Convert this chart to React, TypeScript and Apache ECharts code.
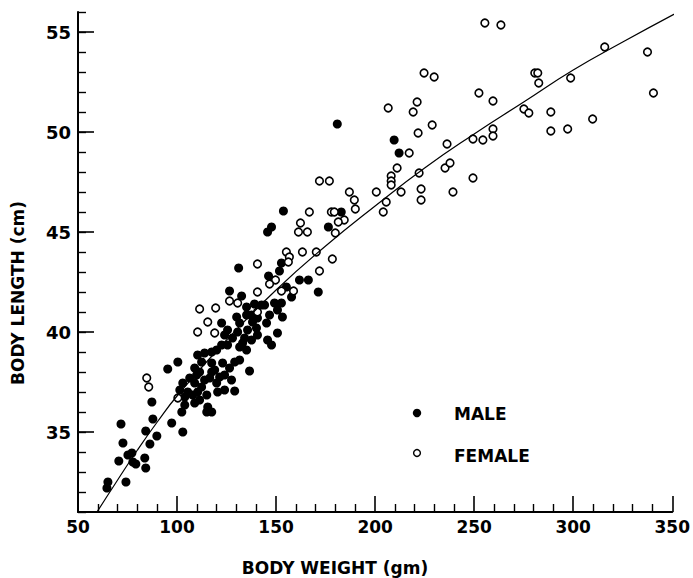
import React, { useEffect, useRef } from 'react';
import * as echarts from 'echarts';

const X_MIN = 50;
const X_MAX = 350;
const X_STEP = 50;
const Y_MIN = 31;
const Y_MAX = 56;
const Y_LABEL_STEP = 5;
const yMajorTicks = [35, 40, 45, 50, 55];

// MALE: [body weight (gm), body length (cm)]
const maleLow = [
  [64.6, 32.2], [65.1, 32.5], [70.6, 33.55], [71.7, 35.4], [72.7, 34.45], [74.2, 32.5],
  [75.2, 33.85], [77.2, 33.95], [77.7, 33.5], [79.2, 33.4], [83.7, 33.7], [84.2, 33.2],
  [84.2, 35.05], [86.3, 34.4], [87.3, 36.5], [87.8, 35.65], [89.8, 34.8], [102.4, 36.0],
  [102.9, 35.0],
];
const maleCluster = [
  [126.5, 42.05], [132.6, 41.8], [142.6, 41.35], [130.1, 40.75], [135.1, 40.85], [122.5, 40.45],
  [131.6, 40.45], [138.1, 40.5], [130.6, 40.0], [135.6, 40.1], [140.1, 40.2], [124.0, 39.85],
  [128.0, 39.7], [134.1, 39.7], [137.6, 39.6], [125.5, 39.35], [131.6, 39.25], [135.1, 39.1],
  [117.5, 39.0], [113.9, 38.95], [110.4, 38.85], [120.0, 39.1], [100.4, 38.5], [95.3, 38.15],
  [108.9, 38.2], [112.4, 38.5], [117.5, 38.45], [123.0, 38.45], [129.1, 38.5], [119.0, 38.1],
  [126.5, 38.2], [136.6, 38.05], [109.9, 37.85], [113.9, 37.6], [116.5, 37.7], [121.5, 37.75],
  [127.5, 37.6], [108.9, 37.45], [102.9, 37.45], [112.4, 37.25], [120.0, 37.45], [105.4, 37.0],
  [110.4, 37.0], [120.5, 37.0], [129.1, 37.05], [103.9, 36.75], [115.0, 36.85], [108.9, 36.45],
  [103.9, 36.35], [115.5, 36.25], [115.0, 36.0], [117.5, 36.0], [97.3, 35.45],
  [140.6, 39.85], [145.7, 39.6], [147.7, 39.35], [150.7, 39.95], [139.1, 41.4], [140.6, 40.7],
  [125.5, 40.1], [133.1, 39.45], [122.5, 39.35], [117.5, 38.0], [111.4, 38.0], [124.0, 37.85],
  [131.6, 38.6], [106.4, 37.7], [101.4, 37.1], [107.9, 36.85], [111.4, 36.6], [124.0, 37.1],
];
const maleUpper = [
  [146.2, 42.8], [161.8, 42.6], [166.3, 42.6], [171.3, 42.0], [155.2, 42.25], [157.8, 41.75],
  [131.1, 43.2], [152.7, 43.45], [151.7, 43.05], [147.7, 45.25], [145.7, 45.0], [153.7, 46.05],
  [176.4, 45.25], [180.9, 50.4], [182.9, 46.0], [209.6, 49.6], [212.1, 48.95],
  [135.1, 41.25], [144.2, 41.35], [149.2, 41.45], [152.7, 41.45], [146.7, 40.85], [150.7, 41.1],
  [153.2, 40.75], [145.2, 40.45], [137.6, 40.85],
];

// FEMALE: [body weight (gm), body length (cm)]
const femaleHigh = [
  [255.4, 55.45], [263.5, 55.35], [224.7, 52.95], [229.8, 52.75], [252.4, 51.95], [259.5, 51.55],
  [206.6, 51.2], [221.2, 51.5], [219.2, 51.0], [228.8, 50.35], [221.7, 49.95], [275.1, 51.15],
  [277.6, 50.95], [280.6, 52.95], [282.1, 52.95], [282.6, 52.45], [298.7, 52.7], [315.9, 54.25],
  [337.5, 54.0], [340.5, 51.95], [288.7, 51.0], [288.7, 50.05], [297.2, 50.15], [309.8, 50.65],
];
const femaleMid = [
  [217.2, 48.95], [236.3, 49.4], [249.4, 49.65], [254.4, 49.6], [259.5, 50.15], [259.5, 49.8],
  [211.1, 48.2], [208.1, 47.8], [208.1, 47.55], [208.1, 47.35], [222.2, 47.95], [235.3, 48.2],
  [237.8, 48.45], [249.4, 47.7], [239.3, 47.0], [223.2, 47.15], [223.2, 46.6], [213.1, 47.0],
  [200.6, 47.0], [205.6, 46.5], [204.1, 46.0], [187.0, 47.0], [189.5, 46.6], [190.0, 46.15],
  [171.9, 47.55], [176.9, 47.55], [177.9, 46.0], [179.4, 46.0], [184.4, 45.6], [181.4, 45.5],
  [179.9, 44.95], [166.8, 46.0], [162.3, 45.45], [161.3, 45.0], [165.8, 45.0],
];
const femaleLow = [
  [155.2, 44.0], [163.3, 44.0], [170.3, 44.0], [156.7, 43.75], [156.2, 43.5], [140.6, 43.4],
  [178.4, 43.65], [171.9, 43.05], [149.7, 42.6], [146.7, 42.4], [152.7, 42.05], [158.8, 42.05],
  [140.6, 42.0], [126.5, 41.55], [130.6, 41.45], [140.6, 41.0], [111.4, 41.15], [119.5, 41.2],
  [115.5, 40.5], [110.4, 40.0], [119.0, 39.95], [84.7, 37.7], [85.7, 37.25], [100.4, 36.7],
];

// fitted curve
const fitWeight = [59.6, 70, 80, 90, 100, 125, 150, 175, 200, 225, 250, 275, 300, 325, 353];
const fitLength = [31.0, 32.6, 34.1, 35.5, 36.8, 39.6, 42.1, 44.3, 46.3, 48.2, 49.9, 51.5, 53.1, 54.5, 56.0];

const FONT = 'DejaVu Sans';
const MAJOR_LEN = 16;

export default function App() {
  const ref = useRef<HTMLDivElement>(null);
  useEffect(() => {
    const chart = echarts.init(ref.current!, null, { renderer: 'svg' });
    chart.setOption({
      animation: false,
      backgroundColor: '#fff',
      grid: { left: 78, right: 20, top: 12, bottom: 66 },
      xAxis: {
        type: 'value',
        min: X_MIN,
        max: X_MAX,
        interval: X_STEP,
        axisLine: { show: true, lineStyle: { color: '#000', width: 2 } },
        axisTick: { show: true, inside: true, length: MAJOR_LEN, lineStyle: { color: '#000', width: 1.6 } },
        minorTick: { show: true, splitNumber: 5, length: 8, lineStyle: { color: '#000', width: 1.4 } },
        splitLine: { show: false },
        axisLabel: { color: '#000', fontFamily: FONT, fontWeight: 'bold', fontSize: 17, margin: 6 },
      },
      yAxis: {
        type: 'value',
        min: Y_MIN,
        max: Y_MAX,
        interval: 1,
        axisLine: { show: true, lineStyle: { color: '#000', width: 2 } },
        axisTick: { show: true, inside: true, length: 8, lineStyle: { color: '#000', width: 1.4 } },
        axisLabel: {
          color: '#000',
          fontFamily: FONT,
          fontWeight: 'bold',
          fontSize: 18,
          margin: 7,
          formatter: (v: number) => (v % Y_LABEL_STEP === 0 ? String(v) : ''),
        },
        splitLine: { show: false },
      },
      series: [
        {
          // longer major ticks on the length axis
          type: 'scatter',
          clip: false,
          symbol: 'rect',
          symbolSize: [MAJOR_LEN, 1.6],
          symbolOffset: [MAJOR_LEN / 2, 0],
          itemStyle: { color: '#000', opacity: 1 },
          data: yMajorTicks.map((v) => [X_MIN, v]),
          z: 5,
        },
        {
          name: 'MALE',
          type: 'scatter',
          symbol: 'circle',
          symbolSize: 9,
          itemStyle: { color: '#000', opacity: 1 },
          data: [...maleLow, ...maleCluster, ...maleUpper],
          z: 2,
        },
        {
          name: 'FEMALE',
          type: 'scatter',
          symbol: 'circle',
          symbolSize: 7.6,
          itemStyle: { color: '#fff', borderColor: '#000', borderWidth: 1.6, opacity: 1 },
          data: [...femaleHigh, ...femaleMid, ...femaleLow],
          z: 3,
        },
        {
          type: 'line',
          smooth: true,
          showSymbol: false,
          clip: false,
          lineStyle: { color: '#000', width: 1.2 },
          data: fitWeight.map((w, i) => [w, fitLength[i]]),
          z: 4,
        },
      ],
      graphic: [
        {
          type: 'text',
          x: 335,
          y: 568,
          style: { text: 'BODY WEIGHT (gm)', fill: '#000', font: `bold 17px "${FONT}"`, textAlign: 'center', textVerticalAlign: 'middle' },
        },
        {
          type: 'text',
          x: 18,
          y: 293,
          rotation: Math.PI / 2,
          style: { text: 'BODY LENGTH (cm)', fill: '#000', font: `bold 17px "${FONT}"`, textAlign: 'center', textVerticalAlign: 'middle' },
        },
        { type: 'circle', shape: { cx: 417, cy: 413, r: 4.2 }, style: { fill: '#000' } },
        { type: 'circle', shape: { cx: 417, cy: 453, r: 3.4 }, style: { fill: '#fff', stroke: '#000', lineWidth: 1.4 } },
        {
          type: 'text',
          x: 454,
          y: 414,
          style: { text: 'MALE', fill: '#000', font: `bold 17px "${FONT}"`, textAlign: 'left', textVerticalAlign: 'middle' },
        },
        {
          type: 'text',
          x: 454,
          y: 456,
          style: { text: 'FEMALE', fill: '#000', font: `bold 17px "${FONT}"`, textAlign: 'left', textVerticalAlign: 'middle' },
        },
      ],
    });
    return () => chart.dispose();
  }, []);
  return <div ref={ref} style={{ position: 'absolute', left: 0, top: 0, width: 693, height: 578 }} />;
}
